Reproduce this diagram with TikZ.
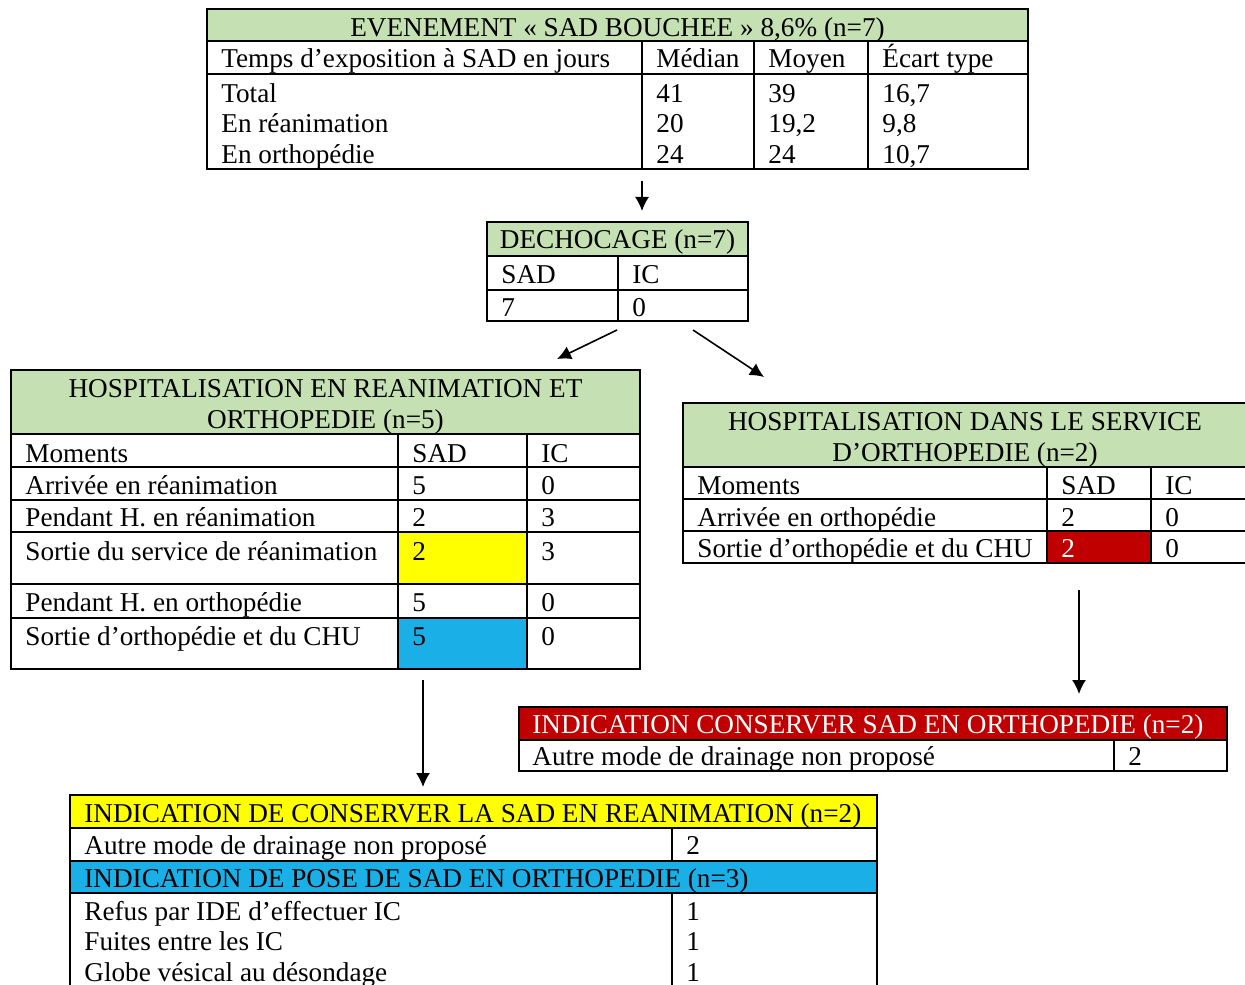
\documentclass[tikz,border=0pt]{standalone}
\usepackage{fontspec}
\setmainfont{Liberation Serif}
\usetikzlibrary{arrows.meta}

\definecolor{hdgreen}{HTML}{C5E0B3}
\definecolor{hdyellow}{HTML}{FFFF00}
\definecolor{hdblue}{HTML}{1AAFE6}
\definecolor{hdred}{HTML}{C00000}

\tikzset{
  frame/.style={draw=black, line width=0.9pt},
  txt/.style={anchor=base west, inner sep=0pt},
  ttl/.style={anchor=base, inner sep=0pt},
  arrow/.style={-{Latex[length=7pt,width=7pt]}, line width=0.8pt},
}

\begin{document}
\begin{tikzpicture}[x=0.5pt, y=-0.5pt, font=\fontsize{13.6}{16}\selectfont]
		\useasboundingbox (0,0) rectangle (1245,984);
		\clip (0,0) rectangle (1245,984);
		% evenement
		\fill [hdgreen] (207,9) rectangle (1028,41);
		\draw [frame] (207,9) rectangle (1028,169);
		\draw [frame] (207,41) -- (1028,41) (207,74) -- (1028,74);
		\draw [frame] (642,41) -- (642,169) (754,41) -- (754,169) (868,41) -- (868,169);
		\node [ttl] (evt) at (617.5,37) {EVENEMENT « SAD BOUCHEE » 8,6\% (n=7)};
		\node [txt] (evt-h1) at (221,68) {Temps d’exposition à SAD en jours};
		\node [txt] (evt-h2) at (656,68) {Médian};
		\node [txt] (evt-h3) at (768,68) {Moyen};
		\node [txt] (evt-h4) at (882,68) {Écart type};
		\node [txt] (evt-r1) at (221,103) {Total};
		\node [txt] (evt-r2) at (221,133) {En réanimation};
		\node [txt] (evt-r3) at (221,164) {En orthopédie};
		\node [txt] (evt-m1) at (656,103) {41};
		\node [txt] (evt-m2) at (656,133) {20};
		\node [txt] (evt-m3) at (656,164) {24};
		\node [txt] (evt-a1) at (768,103) {39};
		\node [txt] (evt-a2) at (768,133) {19,2};
		\node [txt] (evt-a3) at (768,164) {24};
		\node [txt] (evt-e1) at (882,103) {16,7};
		\node [txt] (evt-e2) at (882,133) {9,8};
		\node [txt] (evt-e3) at (882,164) {10,7};
		% dechocage
		\fill [hdgreen] (487,222) rectangle (748,256);
		\draw [frame] (487,222) rectangle (748,321);
		\draw [frame] (487,256) -- (748,256) (487,290) -- (748,290);
		\draw [frame] (618,256) -- (618,321);
		\node [ttl] (dech) at (617.5,249) {DECHOCAGE (n=7)};
		\node [txt] (dech-sad) at (501,283) {SAD};
		\node [txt] (dech-ic) at (632,283) {IC};
		\node [txt] (dech-n1) at (501,316) {7};
		\node [txt] (dech-n2) at (632,316) {0};
		% hospitalisation reanimation et orthopedie
		\fill [hdgreen] (11,370) rectangle (640,434);
		\fill [hdyellow] (398,532) rectangle (527,584);
		\fill [hdblue] (398,618) rectangle (527,669);
		\draw [frame] (11,370) rectangle (640,669);
		\draw [frame] (11,434) -- (640,434) (11,467) -- (640,467) (11,500) -- (640,500)
			(11,532) -- (640,532) (11,584) -- (640,584) (11,618) -- (640,618);
		\draw [frame] (398,434) -- (398,669) (527,434) -- (527,669);
		\node [ttl] (rea) at (325.5,397) {HOSPITALISATION EN REANIMATION ET};
		\node [ttl] (rea-2) at (325.5,428) {ORTHOPEDIE (n=5)};
		\node [txt] (rea-h1) at (25,462) {Moments};
		\node [txt] (rea-h2) at (412,462) {SAD};
		\node [txt] (rea-h3) at (541,462) {IC};
		\node [txt] (rea-r1) at (25,494) {Arrivée en réanimation};
		\node [txt] (rea-r2) at (25,526) {Pendant H. en réanimation};
		\node [txt] (rea-r3) at (25,560) {Sortie du service de réanimation};
		\node [txt] (rea-r4) at (25,611) {Pendant H. en orthopédie};
		\node [txt] (rea-r5) at (25,645) {Sortie d’orthopédie et du CHU};
		\node [txt] (rea-s1) at (412,494) {5};
		\node [txt] (rea-s2) at (412,526) {2};
		\node [txt] (rea-s3) at (412,560) {2};
		\node [txt] (rea-s4) at (412,611) {5};
		\node [txt] (rea-s5) at (412,645) {5};
		\node [txt] (rea-i1) at (541,494) {0};
		\node [txt] (rea-i2) at (541,526) {3};
		\node [txt] (rea-i3) at (541,560) {3};
		\node [txt] (rea-i4) at (541,611) {0};
		\node [txt] (rea-i5) at (541,645) {0};
		% hospitalisation orthopedie
		\fill [hdgreen] (683,403) rectangle (1247,467);
		\fill [hdred] (1047,531) rectangle (1151,563);
		\draw [frame] (683,403) rectangle (1247,563);
		\draw [frame] (683,467) -- (1247,467) (683,499) -- (1247,499) (683,531) -- (1247,531);
		\draw [frame] (1047,467) -- (1047,563) (1151,467) -- (1151,563);
		\node [ttl] (orth) at (965,430) {HOSPITALISATION DANS LE SERVICE};
		\node [ttl] (orth-2) at (965,461) {D’ORTHOPEDIE (n=2)};
		\node [txt] (orth-h1) at (697,494) {Moments};
		\node [txt] (orth-h2) at (1061,494) {SAD};
		\node [txt] (orth-h3) at (1165,494) {IC};
		\node [txt] (orth-r1) at (697,526) {Arrivée en orthopédie};
		\node [txt] (orth-r2) at (697,557) {Sortie d’orthopédie et du CHU};
		\node [txt] (orth-s1) at (1061,526) {2};
		\node [txt, text=white] (orth-s2) at (1061,557) {2};
		\node [txt] (orth-i1) at (1165,526) {0};
		\node [txt] (orth-i2) at (1165,557) {0};
		% indication orthopedie
		\fill [hdred] (519,707) rectangle (1227,740);
		\draw [frame] (519,707) rectangle (1227,771);
		\draw [frame] (519,740) -- (1227,740) (1114,740) -- (1114,771);
		\node [txt, text=white] (ind-orth) at (532,733) {INDICATION CONSERVER SAD EN ORTHOPEDIE (n=2)};
		\node [txt] (ind-orth-r) at (532,765) {Autre mode de drainage non proposé};
		\node [txt] (ind-orth-n) at (1128,765) {2};
		% indications reanimation / pose
		\fill [hdyellow] (70,795) rectangle (877,828);
		\fill [hdblue] (70,861) rectangle (877,893);
		\draw [frame] (70,795) rectangle (877,1000);
		\draw [frame] (70,828) -- (877,828) (70,861) -- (877,861) (70,893) -- (877,893);
		\draw [frame] (672,828) -- (672,861) (672,893) -- (672,1000);
		\node [txt] (ind-rea) at (84,822) {INDICATION DE CONSERVER LA SAD EN REANIMATION (n=2)};
		\node [txt] (ind-rea-r) at (84,854) {Autre mode de drainage non proposé};
		\node [txt] (ind-rea-n) at (686,854) {2};
		\node [txt] (ind-pose) at (84,887) {INDICATION DE POSE DE SAD EN ORTHOPEDIE (n=3)};
		\node [txt] (ind-pose-r1) at (84,920) {Refus par IDE d’effectuer IC};
		\node [txt] (ind-pose-r2) at (84,950) {Fuites entre les IC};
		\node [txt] (ind-pose-r3) at (84,981) {Globe vésical au désondage};
		\node [txt] (ind-pose-n1) at (686,920) {1};
		\node [txt] (ind-pose-n2) at (686,950) {1};
		\node [txt] (ind-pose-n3) at (686,981) {1};
		% fleches
		\coordinate (a1) at (642,181);
		\coordinate (b1) at (642,211);
		\coordinate (a2) at (617,330);
		\coordinate (b2) at (557,359);
		\coordinate (a3) at (693,330);
		\coordinate (b3) at (764,377);
		\coordinate (a4) at (423,680);
		\coordinate (b4) at (423,787);
		\coordinate (a5) at (1079,590);
		\coordinate (b5) at (1079,694);
		\draw [arrow] (a1) -- (b1);
		\draw [arrow] (a2) -- (b2);
		\draw [arrow] (a3) -- (b3);
		\draw [arrow] (a4) -- (b4);
		\draw [arrow] (a5) -- (b5);
\end{tikzpicture}
\end{document}
